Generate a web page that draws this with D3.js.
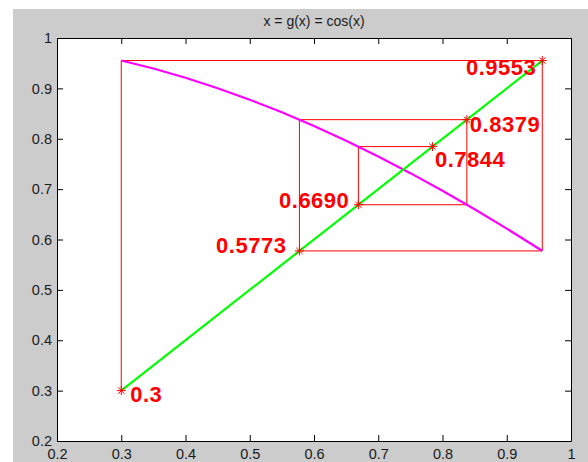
<!DOCTYPE html>
<html>
<head>
<meta charset="utf-8">
<script src="https://cdn.jsdelivr.net/npm/d3@7"></script>
<style>
  html, body { margin: 0; padding: 0; background: #ffffff; }
  svg { display: block; }
  text { font-family: Arial, "Liberation Sans", Helvetica, sans-serif; }
</style>
</head>
<body>
<svg id="chart" width="588" height="462"></svg>
<script>
// Fixed-point iteration x(k+1) = cos(x(k)), starting at 0.3
const iterates = [0.3, 0.9553, 0.5773, 0.8379, 0.6690, 0.7844];
const iterateLabels = ["0.3", "0.9553", "0.5773", "0.8379", "0.6690", "0.7844"];

// g(x) = cos(x) sampled over [0.3, 0.9553]
const curveX = [0.30, 0.35, 0.40, 0.45, 0.50, 0.55, 0.60, 0.65, 0.70, 0.75, 0.80, 0.85, 0.90, 0.95, 0.9553];
const curveY = [0.9553, 0.9394, 0.9211, 0.9004, 0.8776, 0.8525, 0.8253, 0.7961, 0.7648, 0.7317, 0.6967, 0.6600, 0.6216, 0.5817, 0.5773];

// the diagonal y = x
const diagonal = [0.3, 0.9553];

const xTicks = [0.2, 0.3, 0.4, 0.5, 0.6, 0.7, 0.8, 0.9, 1];
const yTicks = [0.2, 0.3, 0.4, 0.5, 0.6, 0.7, 0.8, 0.9, 1];
const titleText = "x = g(x) = cos(x)";

const W = 588, H = 462;
const plot = { left: 57, top: 38, right: 571, bottom: 441 };

const svg = d3.select("#chart");

// figure background
svg.append("rect")
  .attr("x", 13).attr("y", 9)
  .attr("width", W - 13).attr("height", H - 9)
  .attr("fill", "#cccccc");

const x = d3.scaleLinear().domain([0.2, 1]).range([plot.left, plot.right]);
const y = d3.scaleLinear().domain([0.2, 1]).range([plot.bottom, plot.top]);

// axes area
svg.append("rect")
  .attr("x", plot.left).attr("y", plot.top)
  .attr("width", plot.right - plot.left).attr("height", plot.bottom - plot.top)
  .attr("fill", "#ffffff");

const tickLen = 6;
const fmt = d => (d === 1 ? "1" : d3.format(".1f")(d));

// bottom and left axes with labels, ticks pointing inward
const xAxis = svg.append("g")
  .attr("transform", `translate(0,${plot.bottom})`)
  .call(d3.axisBottom(x).tickValues(xTicks).tickFormat(fmt).tickSizeInner(-tickLen).tickSizeOuter(0).tickPadding(8));
const yAxis = svg.append("g")
  .attr("transform", `translate(${plot.left},0)`)
  .call(d3.axisLeft(y).tickValues(yTicks).tickFormat(fmt).tickSizeInner(-tickLen).tickSizeOuter(0).tickPadding(5));
// top and right axes: ticks only
const xTop = svg.append("g")
  .attr("transform", `translate(0,${plot.top})`)
  .call(d3.axisTop(x).tickValues(xTicks).tickFormat("").tickSizeInner(-tickLen).tickSizeOuter(0));
const yRight = svg.append("g")
  .attr("transform", `translate(${plot.right},0)`)
  .call(d3.axisRight(y).tickValues(yTicks).tickFormat("").tickSizeInner(-tickLen).tickSizeOuter(0));

[xAxis, yAxis, xTop, yRight].forEach(g => {
  g.select(".domain").attr("stroke", "#000").attr("stroke-width", 1);
  g.selectAll(".tick line").attr("stroke", "#000");
  g.selectAll(".tick text")
    .attr("fill", "#1a1a1a")
    .style("font-size", "14.5px");
});

// title
svg.append("text")
  .attr("x", (plot.left + plot.right) / 2)
  .attr("y", 26)
  .attr("text-anchor", "middle")
  .attr("fill", "#1a1a1a")
  .style("font-size", "14px")
  .text(titleText);

const marks = svg.append("g");

// cobweb path: vertical to the curve, horizontal to the diagonal
const cobweb = [[iterates[0], iterates[0]]];
for (let i = 1; i < iterates.length; i++) {
  cobweb.push([iterates[i - 1], iterates[i]]);
  cobweb.push([iterates[i], iterates[i]]);
}
const line = d3.line().x(d => x(d[0])).y(d => y(d[1]));

marks.append("path")
  .datum(cobweb)
  .attr("d", line)
  .attr("fill", "none")
  .attr("stroke", "#ff0000")
  .attr("stroke-width", 1);

// g(x) curve
marks.append("path")
  .datum(curveX.map((v, i) => [v, curveY[i]]))
  .attr("d", line)
  .attr("fill", "none")
  .attr("stroke", "#ff00ff")
  .attr("stroke-width", 2.2);

// y = x
marks.append("path")
  .datum(diagonal.map(v => [v, v]))
  .attr("d", line)
  .attr("fill", "none")
  .attr("stroke", "#00ff00")
  .attr("stroke-width", 2.2);

// asterisk markers on the diagonal
const r = 4.5;
const star = `M${-r},0H${r}M0,${-r}V${r}M${-r * 0.7},${-r * 0.7}L${r * 0.7},${r * 0.7}M${-r * 0.7},${r * 0.7}L${r * 0.7},${-r * 0.7}`;
marks.selectAll(".mark")
  .data(iterates)
  .join("path")
  .attr("class", "mark")
  .attr("transform", d => `translate(${x(d)},${y(d)})`)
  .attr("d", star)
  .attr("fill", "none")
  .attr("stroke", "#ff0000")
  .attr("stroke-width", 1);

// value labels next to each marker: [dx, dy, anchor]
const labelPlacement = [
  [9, 11, "start"],
  [-6, 14.5, "end"],
  [-13, 2, "end"],
  [3, 12, "start"],
  [-9, 3, "end"],
  [2.5, 20, "start"]
];
marks.selectAll(".vlabel")
  .data(iterates)
  .join("text")
  .attr("class", "vlabel")
  .attr("x", (d, i) => x(d) + labelPlacement[i][0])
  .attr("y", (d, i) => y(d) + labelPlacement[i][1])
  .attr("text-anchor", (d, i) => labelPlacement[i][2])
  .attr("fill", "#ff0000")
  .style("font-size", "22px")
  .style("font-weight", "bold")
  .style("letter-spacing", "0.5px")
  .text((d, i) => iterateLabels[i]);
</script>
</body>
</html>
